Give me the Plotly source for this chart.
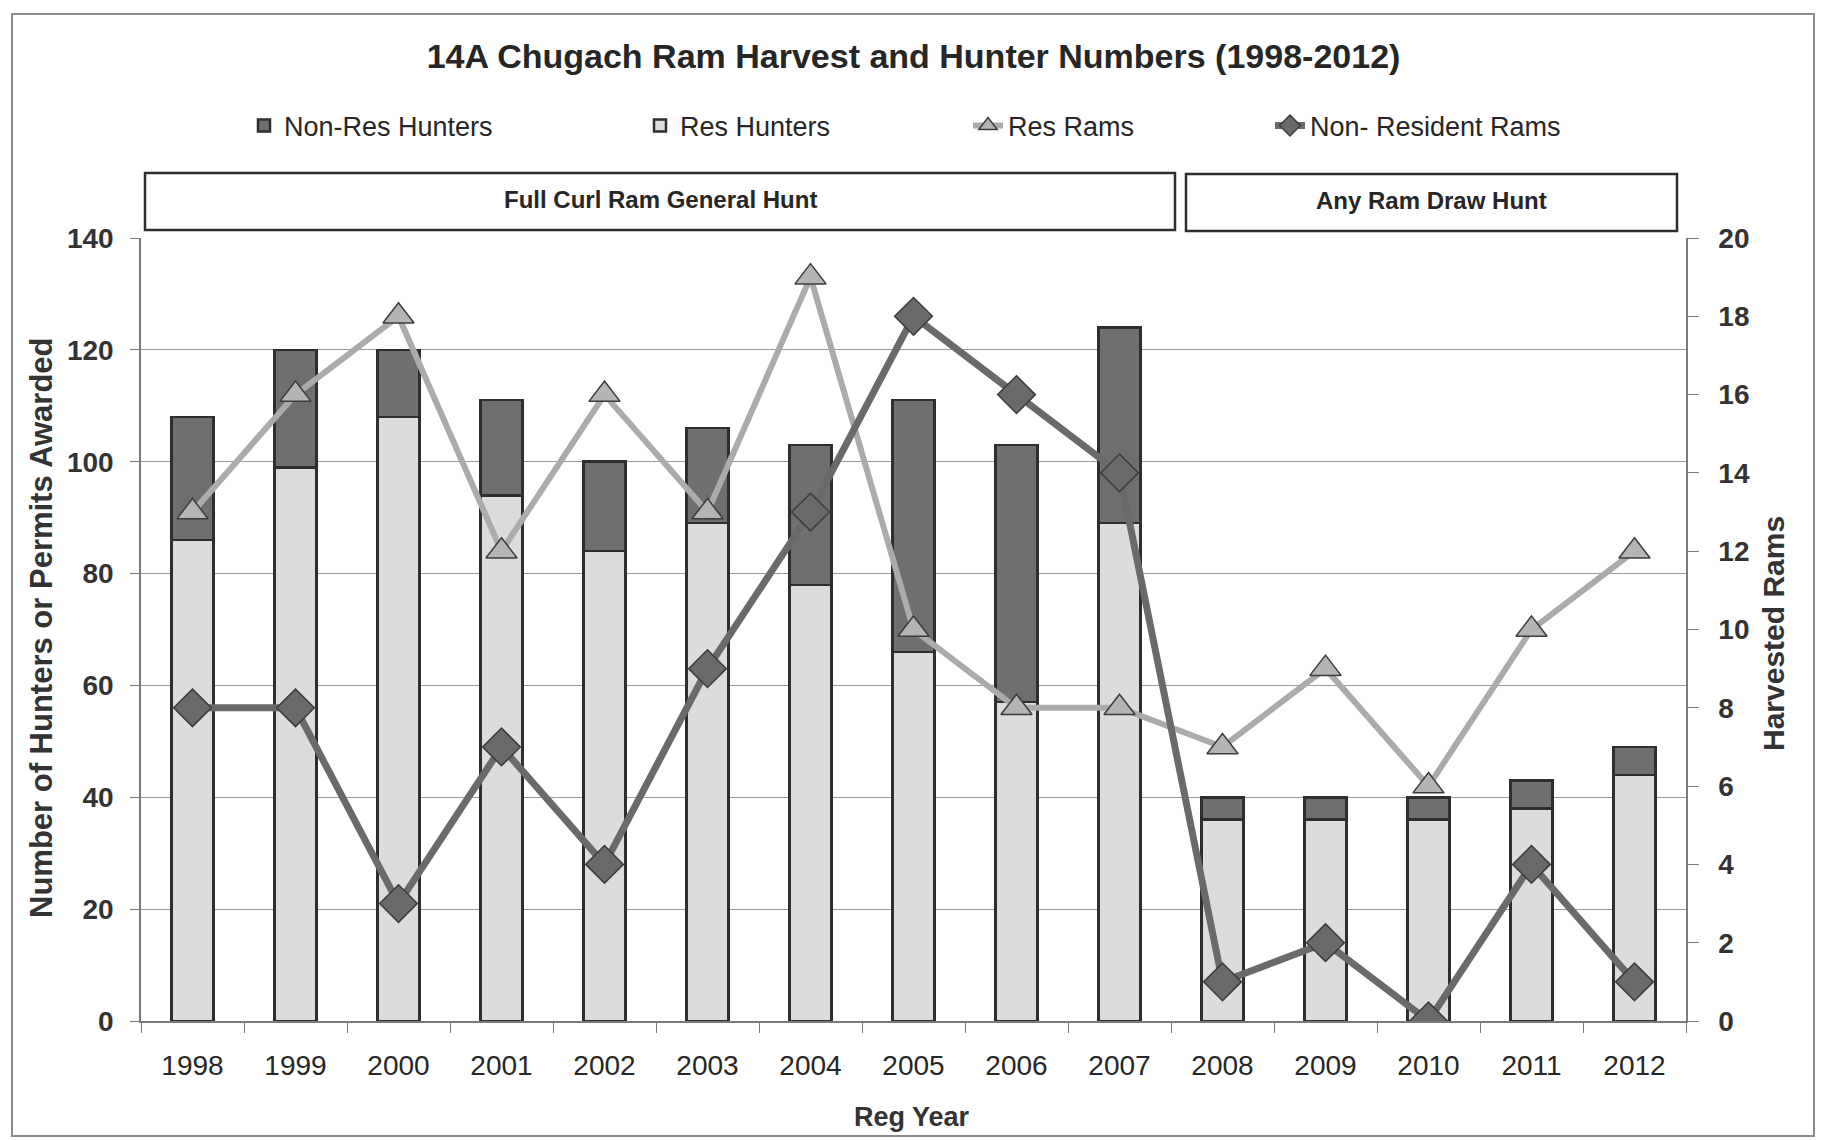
import plotly.graph_objects as go

years = ["1998", "1999", "2000", "2001", "2002", "2003", "2004", "2005",
         "2006", "2007", "2008", "2009", "2010", "2011", "2012"]
res_hunters = [86, 99, 108, 94, 84, 89, 78, 66, 57, 89, 36, 36, 36, 38, 44]
nonres_hunters = [22, 21, 12, 17, 16, 17, 25, 45, 46, 35, 4, 4, 4, 5, 5]
res_rams = [13, 16, 18, 12, 16, 13, 19, 10, 8, 8, 7, 9, 6, 10, 12]
nonres_rams = [8, 8, 3, 7, 4, 9, 13, 18, 16, 14, 1, 2, 0, 4, 1]

left_ticks = [0, 20, 40, 60, 80, 100, 120, 140]
right_ticks = [0, 2, 4, 6, 8, 10, 12, 14, 16, 18, 20]

TITLE = "14A Chugach Ram Harvest and Hunter Numbers (1998-2012)"
HUNT1 = "Full Curl Ram General Hunt"
HUNT2 = "Any Ram Draw Hunt"

FONT = "Liberation Sans Narrow, Arial Narrow, Liberation Sans, Arial, sans-serif"
DARK_BAR = "#6f6f6f"
LIGHT_BAR = "#dcdcdc"
OUTLINE = "#2e2e2e"

fig = go.Figure()

fig.add_trace(go.Bar(
    x=years, y=res_hunters, name="Res Hunters",
    marker=dict(color=LIGHT_BAR, line=dict(color=OUTLINE, width=2.5)),
    legend="legend3", yaxis="y"))
fig.add_trace(go.Bar(
    x=years, y=nonres_hunters, name="Non-Res Hunters",
    marker=dict(color=DARK_BAR, line=dict(color=OUTLINE, width=2.5)),
    legend="legend2", yaxis="y"))
fig.add_trace(go.Scatter(
    x=years, y=res_rams, name="Res Rams", mode="lines+markers",
    line=dict(color="#ababab", width=6),
    marker=dict(symbol="triangle-up", size=27, color="#b4b4b4",
                line=dict(color="#3c3c3c", width=1.5)),
    legend="legend4", yaxis="y2"))
fig.add_trace(go.Scatter(
    x=years, y=nonres_rams, name="Non- Resident Rams", mode="lines+markers",
    line=dict(color="#6a6a6a", width=7),
    marker=dict(symbol="diamond", size=29, color="#6a6a6a",
                line=dict(color="#3c3c3c", width=1.5)),
    legend="legend5", yaxis="y2"))

W, H = 1821, 1140
L, R, T, B = 141, 135, 238, 119
pw = W - L - R
ph = H - T - B


def px_x(p):
    return (p - L) / pw


def px_y(p):
    return (H - B - p) / ph


legend_font = dict(family=FONT, size=27, color="#262626")
leg_common = dict(orientation="h", yanchor="middle", xanchor="left",
                  font=legend_font, bgcolor="rgba(0,0,0,0)",
                  itemwidth=30, tracegroupgap=0)
leg_y = px_y(126)

fig.update_layout(
    width=W, height=H,
    margin=dict(l=L, r=R, t=T, b=B, autoexpand=False),
    paper_bgcolor="white", plot_bgcolor="white",
    barmode="stack", bargap=0.59,
    showlegend=True,
    title=dict(text=TITLE, x=0.5, xref="paper", y=1 - 56 / H, yanchor="middle",
               font=dict(family=FONT, size=34, color="#262626", weight="bold")),
    legend2=dict(x=px_x(244), y=leg_y, **leg_common),
    legend3=dict(x=px_x(640), y=leg_y, **leg_common),
    legend4=dict(x=px_x(968), y=leg_y, **leg_common),
    legend5=dict(x=px_x(1270), y=leg_y, **leg_common),
    xaxis=dict(
        type="category", range=[-0.5, 14.5],
        showline=True, linecolor="#7a7a7a", linewidth=1.5,
        ticks="outside", tickson="boundaries", ticklen=10, tickcolor="#7a7a7a",
        tickfont=dict(family=FONT, size=28, color="#262626"),
        ticklabelstandoff=19, showgrid=False),
    yaxis=dict(
        range=[0, 140], tickvals=left_ticks,
        showline=True, linecolor="#7a7a7a", linewidth=1.5,
        ticks="outside", ticklen=9, tickcolor="#7a7a7a",
        showgrid=True, gridcolor="#9a9a9a", gridwidth=1.2,
        zeroline=False,
        tickfont=dict(family=FONT, size=28, color="#333333", weight="bold"),
        ticklabelstandoff=11),
    yaxis2=dict(
        range=[0, 20], tickvals=right_ticks, overlaying="y", side="right",
        showline=True, linecolor="#7a7a7a", linewidth=1.5,
        ticks="outside", ticklen=11, tickcolor="#7a7a7a",
        showgrid=False, zeroline=False,
        tickfont=dict(family=FONT, size=28, color="#333333", weight="bold"),
        ticklabelstandoff=14),
)

shapes = [
    # outer frame
    dict(type="rect", xref="paper", yref="paper",
         x0=px_x(12), x1=px_x(1814), y0=px_y(1136), y1=px_y(14),
         line=dict(color="#8a8a8a", width=2), fillcolor="rgba(0,0,0,0)", layer="below"),
    # hunt boxes
    dict(type="rect", xref="paper", yref="paper",
         x0=px_x(145), x1=px_x(1175), y0=px_y(230), y1=px_y(173),
         line=dict(color="#2e2e2e", width=2.5), fillcolor="white"),
    dict(type="rect", xref="paper", yref="paper",
         x0=px_x(1186), x1=px_x(1677), y0=px_y(231), y1=px_y(174),
         line=dict(color="#2e2e2e", width=2.5), fillcolor="white"),
]
fig.update_layout(shapes=shapes)

box_font = dict(family=FONT, size=24, color="#262626", weight="bold")
annotations = [
    dict(text=HUNT1, xref="paper", yref="paper", x=px_x(660), y=px_y(200),
         showarrow=False, xanchor="center", yanchor="middle", font=box_font),
    dict(text=HUNT2, xref="paper", yref="paper", x=px_x(1431), y=px_y(201),
         showarrow=False, xanchor="center", yanchor="middle", font=box_font),
    dict(text="Number of Hunters or Permits Awarded", xref="paper", yref="paper",
         x=px_x(41), y=px_y(628), textangle=-90, showarrow=False,
         xanchor="center", yanchor="middle",
         font=dict(family=FONT, size=31, color="#333333", weight="bold")),
    dict(text="Harvested Rams", xref="paper", yref="paper",
         x=px_x(1773), y=px_y(634), textangle=-90, showarrow=False,
         xanchor="center", yanchor="middle",
         font=dict(family=FONT, size=30, color="#333333", weight="bold")),
    dict(text="Reg Year", xref="paper", yref="paper",
         x=px_x(912), y=px_y(1117), showarrow=False,
         xanchor="center", yanchor="middle",
         font=dict(family=FONT, size=27, color="#333333", weight="bold")),
]
fig.update_layout(annotations=annotations)

fig.write_html("out.html",
               config={"displayModeBar": False},
               post_script="document.body.style.margin='0';document.body.style.padding='0';")
